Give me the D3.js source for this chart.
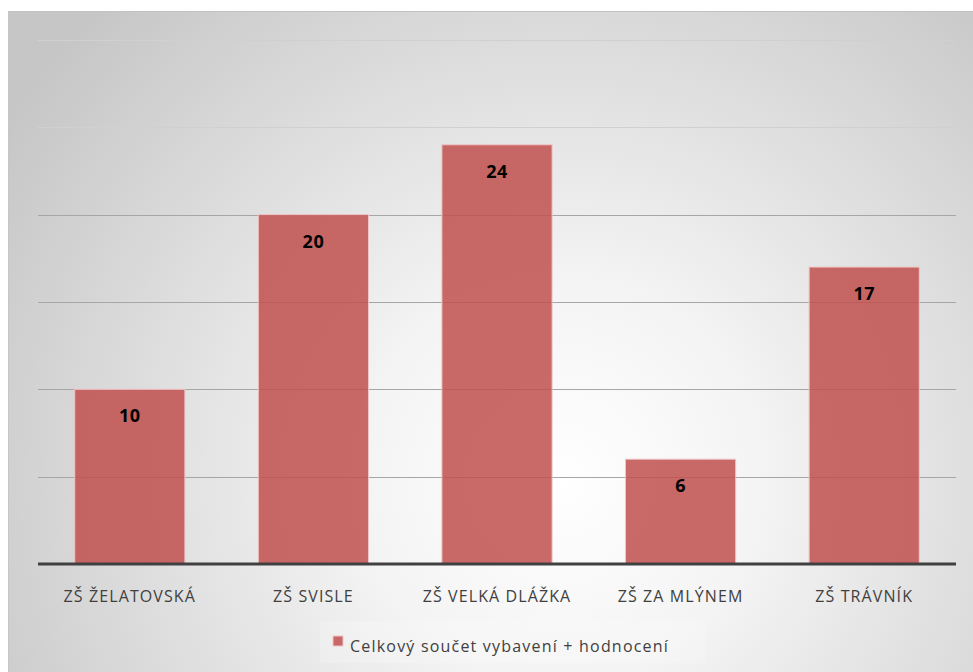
<!DOCTYPE html>
<html>
<head>
<meta charset="utf-8">
<script src="https://cdn.jsdelivr.net/npm/d3@7"></script>
<style>
  body { margin: 0; background: #fff; }
  svg { display: block; font-family: "Open Sans", "DejaVu Sans", sans-serif; }
</style>
</head>
<body>
<svg id="chart" width="973" height="672"></svg>
<script>
const categories = ["ZŠ ŽELATOVSKÁ", "ZŠ SVISLE", "ZŠ VELKÁ DLÁŽKA", "ZŠ ZA MLÝNEM", "ZŠ TRÁVNÍK"];
const values = [10, 20, 24, 6, 17];
const yTicks = [0, 5, 10, 15, 20, 25, 30];
const seriesName = "Celkový součet vybavení + hodnocení";

const svg = d3.select("#chart");
const width = +svg.attr("width");
const height = +svg.attr("height");

const margin = { left: 38, right: 17, top: 40, bottom: 108 };
const plotBottom = height - margin.bottom; // 564

const defs = svg.append("defs");
const grad = defs.append("radialGradient")
  .attr("id", "bg")
  .attr("gradientUnits", "userSpaceOnUse")
  .attr("cx", 560).attr("cy", 480).attr("r", 660);
grad.append("stop").attr("offset", "0%").attr("stop-color", "#ffffff");
grad.append("stop").attr("offset", "30%").attr("stop-color", "#f4f4f4");
grad.append("stop").attr("offset", "100%").attr("stop-color", "#c6c6c6");

// chart area background
svg.append("rect")
  .attr("x", 8).attr("y", 11)
  .attr("width", width - 8).attr("height", height - 11)
  .attr("fill", "url(#bg)");
svg.append("line")
  .attr("x1", 8).attr("x2", width).attr("y1", 11.5).attr("y2", 11.5)
  .attr("stroke", "#c2c2c2").attr("stroke-width", 1);
svg.append("line")
  .attr("x1", 8.5).attr("x2", 8.5).attr("y1", 11).attr("y2", height)
  .attr("stroke", "#c6c6c6").attr("stroke-width", 1);

const x = d3.scaleBand()
  .domain(categories)
  .range([margin.left, width - margin.right])
  .paddingInner(0.4)
  .paddingOuter(0.2);

const y = d3.scaleLinear()
  .domain([0, 30])
  .range([plotBottom, margin.top]);

// gridlines
svg.append("g")
  .selectAll("line")
  .data(yTicks.filter((t) => t > 0))
  .join("line")
  .attr("x1", margin.left)
  .attr("x2", width - margin.right)
  .attr("y1", (d) => Math.round(y(d)) + 0.5)
  .attr("y2", (d) => Math.round(y(d)) + 0.5)
  .attr("stroke", (d) => (d >= 25 ? "#d0d0d0" : "#a6a6a6"))
  .attr("stroke-width", 1);

// bars
svg.append("g")
  .selectAll("rect")
  .data(values)
  .join("rect")
  .attr("x", (d, i) => x(categories[i]))
  .attr("y", (d) => y(d))
  .attr("width", x.bandwidth())
  .attr("height", (d) => plotBottom - y(d))
  .attr("fill", "#c0504d")
  .attr("fill-opacity", 0.85)
  .attr("stroke", "#f0c4c4")
  .attr("stroke-width", 1);

// value labels
svg.append("g")
  .selectAll("text")
  .data(values)
  .join("text")
  .attr("x", (d, i) => x(categories[i]) + x.bandwidth() / 2)
  .attr("y", (d) => y(d) + 33)
  .attr("text-anchor", "middle")
  .attr("font-size", 18)
  .attr("font-weight", "bold")
  .attr("letter-spacing", 0.5)
  .attr("fill", "#000")
  .text((d) => d);

// baseline
svg.append("line")
  .attr("x1", margin.left)
  .attr("x2", width - margin.right)
  .attr("y1", plotBottom)
  .attr("y2", plotBottom)
  .attr("stroke", "#404040")
  .attr("stroke-width", 3);

// category labels
svg.append("g")
  .selectAll("text")
  .data(categories)
  .join("text")
  .attr("x", (d) => x(d) + x.bandwidth() / 2)
  .attr("y", 602)
  .attr("text-anchor", "middle")
  .attr("font-size", 16)
  .attr("letter-spacing", 1.1)
  .attr("fill", "#404040")
  .text((d) => d);

// legend
const legend = svg.append("g");
legend.append("rect")
  .attr("x", 320).attr("y", 621)
  .attr("width", 385).attr("height", 42)
  .attr("fill", "#ffffff").attr("fill-opacity", 0.2);
legend.append("rect")
  .attr("x", 333).attr("y", 636)
  .attr("width", 10).attr("height", 10)
  .attr("fill", "#c0504d").attr("fill-opacity", 0.85)
  .attr("stroke", "#f0c4c4");
legend.append("text")
  .attr("x", 350).attr("y", 652)
  .attr("font-size", 16)
  .attr("letter-spacing", 1.2)
  .attr("fill", "#404040")
  .text(seriesName);
</script>
</body>
</html>
